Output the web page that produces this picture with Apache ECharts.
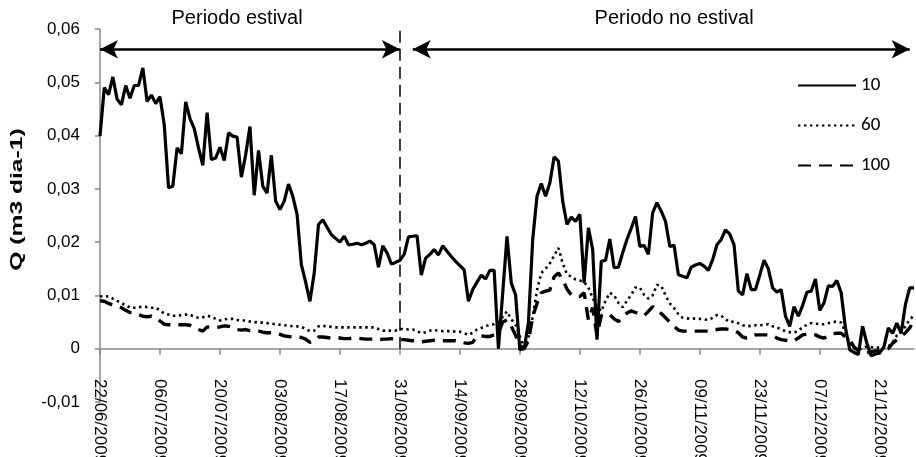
<!DOCTYPE html>
<html><head><meta charset="utf-8">
<script src="https://cdn.jsdelivr.net/npm/echarts@6/dist/echarts.min.js"></script>
<style>html,body{margin:0;padding:0;background:#fff}#c{width:916px;height:457px}</style>
</head><body><div id="c"></div>
<script>
// Categories: daily dates from 22/06/2009 (191 days)
const startDate = [2009, 5, 22];
const nDays = 191;
const categories = [];
for (let i = 0; i < nDays; i++) {
  const d = new Date(Date.UTC(startDate[0], startDate[1], startDate[2] + i));
  const dd = String(d.getUTCDate()).padStart(2, '0');
  const mm = String(d.getUTCMonth() + 1).padStart(2, '0');
  categories.push(dd + '/' + mm + '/' + d.getUTCFullYear());
}
const seriesNames = ['10', '60', '100'];
const s10 = [
0.0399,0.0490,0.0477,0.0510,0.0468,0.0458,0.0494,0.0470,0.0494,0.0494,
0.0527,0.0464,0.0476,0.0460,0.0473,0.0420,0.0302,0.0305,0.0377,0.0366,
0.0463,0.0432,0.0413,0.0377,0.0344,0.0443,0.0355,0.0358,0.0378,0.0353,
0.0405,0.0399,0.0397,0.0322,0.0364,0.0417,0.0288,0.0372,0.0305,0.0292,
0.0363,0.0277,0.0261,0.0277,0.0309,0.0286,0.0252,0.0158,0.0125,0.0089,
0.0142,0.0233,0.0242,0.0228,0.0214,0.0207,0.0200,0.0211,0.0195,0.0196,
0.0198,0.0195,0.0198,0.0202,0.0195,0.0153,0.0193,0.0180,0.0159,0.0162,
0.0166,0.0177,0.0210,0.0211,0.0212,0.0138,0.0170,0.0177,0.0186,0.0176,
0.0193,0.0183,0.0173,0.0164,0.0156,0.0148,0.0089,0.0111,0.0125,0.0138,
0.0131,0.0147,0.0147,0.0000,0.0105,0.0211,0.0123,0.0101,-0.0002,0.0000,
0.0048,0.0205,0.0286,0.0310,0.0286,0.0311,0.0360,0.0352,0.0277,0.0233,
0.0247,0.0239,0.0252,0.0123,0.0227,0.0186,0.0017,0.0164,0.0166,0.0206,
0.0152,0.0153,0.0180,0.0205,0.0226,0.0248,0.0192,0.0194,0.0177,0.0255,
0.0274,0.0258,0.0239,0.0192,0.0194,0.0139,0.0136,0.0133,0.0153,0.0157,
0.0160,0.0155,0.0147,0.0167,0.0195,0.0205,0.0223,0.0215,0.0195,0.0108,
0.0101,0.0141,0.0111,0.0111,0.0138,0.0166,0.0150,0.0114,0.0106,0.0111,
0.0061,0.0042,0.0079,0.0061,0.0081,0.0106,0.0108,0.0131,0.0072,0.0086,
0.0118,0.0117,0.0128,0.0105,0.0039,-0.0002,-0.0007,-0.0011,0.0042,0.0010,
-0.0013,-0.0010,-0.0008,0.0004,0.0039,0.0029,0.0048,0.0029,0.0083,0.0114,0.0114
];
const s60 = [
0.0098,0.0099,0.0098,0.0094,0.0090,0.0085,0.0082,0.0077,0.0077,0.0078,
0.0079,0.0078,0.0077,0.0077,0.0072,0.0066,0.0064,0.0062,0.0062,0.0063,
0.0064,0.0064,0.0060,0.0058,0.0059,0.0062,0.0060,0.0056,0.0053,0.0055,
0.0056,0.0056,0.0054,0.0053,0.0053,0.0051,0.0050,0.0049,0.0049,0.0048,
0.0047,0.0046,0.0045,0.0044,0.0043,0.0042,0.0042,0.0041,0.0037,0.0033,
0.0034,0.0042,0.0043,0.0042,0.0041,0.0040,0.0040,0.0040,0.0040,0.0040,
0.0040,0.0040,0.0040,0.0040,0.0040,0.0037,0.0034,0.0034,0.0034,0.0034,
0.0037,0.0037,0.0036,0.0036,0.0033,0.0029,0.0031,0.0034,0.0035,0.0034,
0.0033,0.0033,0.0033,0.0032,0.0032,0.0029,0.0026,0.0030,0.0036,0.0039,
0.0042,0.0045,0.0046,0.0050,0.0060,0.0070,0.0055,0.0045,0.0023,0.0002,
0.0020,0.0060,0.0110,0.0142,0.0150,0.0160,0.0175,0.0189,0.0160,0.0140,
0.0135,0.0130,0.0128,0.0125,0.0115,0.0095,0.0080,0.0070,0.0090,0.0105,
0.0100,0.0086,0.0078,0.0090,0.0101,0.0115,0.0115,0.0101,0.0094,0.0100,
0.0120,0.0118,0.0100,0.0085,0.0076,0.0065,0.0058,0.0057,0.0056,0.0057,
0.0056,0.0055,0.0054,0.0058,0.0063,0.0062,0.0055,0.0050,0.0051,0.0048,
0.0044,0.0042,0.0043,0.0044,0.0044,0.0045,0.0046,0.0042,0.0040,0.0036,
0.0033,0.0031,0.0030,0.0034,0.0040,0.0045,0.0048,0.0047,0.0046,0.0046,
0.0048,0.0050,0.0051,0.0049,0.0031,0.0010,0.0003,-0.0002,0.0002,0.0004,
0.0003,0.0002,0.0002,0.0003,0.0004,0.0012,0.0025,0.0032,0.0042,0.0055,0.0062
];
const s100 = [
0.0090,0.0089,0.0085,0.0082,0.0080,0.0077,0.0072,0.0068,0.0067,0.0064,
0.0061,0.0060,0.0061,0.0058,0.0052,0.0046,0.0045,0.0045,0.0045,0.0045,
0.0045,0.0044,0.0040,0.0036,0.0033,0.0041,0.0040,0.0040,0.0041,0.0043,
0.0042,0.0040,0.0036,0.0035,0.0036,0.0034,0.0033,0.0033,0.0031,0.0030,
0.0030,0.0029,0.0027,0.0024,0.0023,0.0022,0.0022,0.0021,0.0018,0.0012,
0.0015,0.0022,0.0022,0.0021,0.0020,0.0020,0.0020,0.0019,0.0019,0.0020,
0.0020,0.0019,0.0018,0.0018,0.0018,0.0017,0.0018,0.0018,0.0019,0.0018,
0.0017,0.0017,0.0016,0.0015,0.0014,0.0013,0.0014,0.0015,0.0016,0.0016,
0.0015,0.0015,0.0015,0.0015,0.0013,0.0011,0.0010,0.0012,0.0023,0.0024,
0.0023,0.0023,0.0026,0.0030,0.0050,0.0054,0.0042,0.0025,0.0006,0.0000,
0.0015,0.0060,0.0085,0.0105,0.0108,0.0110,0.0135,0.0142,0.0130,0.0112,
0.0101,0.0100,0.0098,0.0105,0.0054,0.0077,0.0025,0.0062,0.0066,0.0064,
0.0056,0.0051,0.0060,0.0067,0.0071,0.0068,0.0065,0.0062,0.0070,0.0079,
0.0072,0.0066,0.0058,0.0050,0.0042,0.0035,0.0033,0.0033,0.0033,0.0033,
0.0033,0.0033,0.0033,0.0035,0.0036,0.0037,0.0037,0.0036,0.0034,0.0030,
0.0022,0.0020,0.0023,0.0026,0.0026,0.0026,0.0026,0.0024,0.0020,0.0017,
0.0016,0.0014,0.0015,0.0020,0.0026,0.0027,0.0028,0.0026,0.0022,0.0020,
0.0024,0.0028,0.0029,0.0029,0.0022,0.0017,0.0003,-0.0004,-0.0008,-0.0008,
-0.0006,-0.0004,-0.0004,-0.0002,0.0000,0.0010,0.0017,0.0023,0.0030,0.0039,0.0054
];
const yTicks = { min: -0.01, max: 0.06, interval: 0.01 };
const yAxisTitle = 'Q (m3 dia-1)';
const yAxisTitleAt = 0.028;             // value level at which the axis title is centred
const periodLabels = ['Periodo estival', 'Periodo no estival'];
const periodLabelAt = [31.5, 134];      // category index where each label is centred
const periodSplit = '31/08/2009';
const arrowLevel = 0.0562;

const FONT = "'Liberation Sans', Arial, sans-serif";
const chart = echarts.init(document.getElementById('c'), null, { renderer: 'canvas' });
const axisGray = '#888888';
const splitIdx = categories.indexOf(periodSplit);

chart.setOption({
  animation: false,
  grid: { left: 100, right: 2, top: 29, bottom: 55, containLabel: false, outerBoundsMode: 'none' },
  legend: {
    orient: 'vertical', left: 792, top: 71, itemWidth: 58, itemHeight: 14, itemGap: 21,
    data: seriesNames,
    textStyle: { fontFamily: "Carlito, Lato, sans-serif", fontSize: 19, color: '#000' },
    itemStyle: { opacity: 0 }
  },
  xAxis: {
    type: 'category', data: categories, boundaryGap: false,
    axisLine: { onZero: true, lineStyle: { color: axisGray, width: 1.5 } },
    axisTick: { interval: 13, length: 6, lineStyle: { color: axisGray, width: 1.5 } },
    axisLabel: { interval: 13, rotate: -90, margin: -23, fontFamily: FONT, fontSize: 17, color: '#000' },
    splitLine: { show: false }
  },
  yAxis: {
    type: 'value', min: yTicks.min, max: yTicks.max, interval: yTicks.interval,
    axisLine: { show: true, lineStyle: { color: axisGray, width: 1.5 } },
    axisTick: { show: true, length: 5, lineStyle: { color: axisGray, width: 1.5 } },
    axisLabel: { margin: 20, fontFamily: FONT, fontSize: 17, color: '#000',
      formatter: v => Math.abs(v) < 1e-9 ? '0' : v.toFixed(2).replace('.', ',') },
    splitLine: { show: false }
  },
  series: [
    { name: seriesNames[0], type: 'line', data: s10, showSymbol: false, symbol: 'none',
      lineStyle: { color: '#000', width: 3.2, type: 'solid' }, itemStyle: { color: '#000' },
      markLine: {
        silent: true, symbol: ['none', 'none'], label: { show: false },
        lineStyle: { color: '#000', width: 1.5, type: [12, 6] },
        data: [[{ coord: [splitIdx, 0] }, { coord: [splitIdx, yTicks.max] }]]
      }
    },
    { name: seriesNames[1], type: 'line', data: s60, showSymbol: false, symbol: 'none',
      lineStyle: { color: '#000', width: 2.6, type: [2.4, 3.6], cap: 'butt' }, itemStyle: { color: '#000' },
      markLine: {
        silent: true, symbol: ['arrow', 'arrow'], symbolSize: [14, 18], label: { show: false },
        lineStyle: { color: '#000', width: 2.5, type: 'solid' }, itemStyle: { color: '#000' },
        data: [
          [{ coord: [0, arrowLevel] }, { coord: [splitIdx, arrowLevel] }],
          [{ coord: [splitIdx + 2.5, arrowLevel] }, { coord: [nDays - 2, arrowLevel] }]
        ]
      }
    },
    { name: seriesNames[2], type: 'line', data: s100, showSymbol: false, symbol: 'none',
      lineStyle: { color: '#000', width: 3.4, type: [13, 8] }, itemStyle: { color: '#000' } }
  ]
});

// Labels positioned through the chart's own coordinate system
const p1 = chart.convertToPixel({ gridIndex: 0 }, [periodLabelAt[0], yTicks.max]);
const p2 = chart.convertToPixel({ gridIndex: 0 }, [periodLabelAt[1], yTicks.max]);
const pt = chart.convertToPixel({ gridIndex: 0 }, [0, yAxisTitleAt]);
chart.setOption({
  graphic: [
    { type: 'text', x: p1[0], y: p1[1] - 11, style: { text: periodLabels[0], font: "20px " + FONT, fill: '#000', textAlign: 'center', textVerticalAlign: 'middle' } },
    { type: 'text', x: p2[0], y: p2[1] - 11, style: { text: periodLabels[1], font: "20px " + FONT, fill: '#000', textAlign: 'center', textVerticalAlign: 'middle' } },
    { type: 'text', x: pt[0] - 83, y: pt[1], rotation: Math.PI / 2, scaleX: 1.45,
      style: { text: yAxisTitle, font: "bold 17px " + FONT, fill: '#000', textAlign: 'center', textVerticalAlign: 'middle' } }
  ]
});
</script></body></html>
